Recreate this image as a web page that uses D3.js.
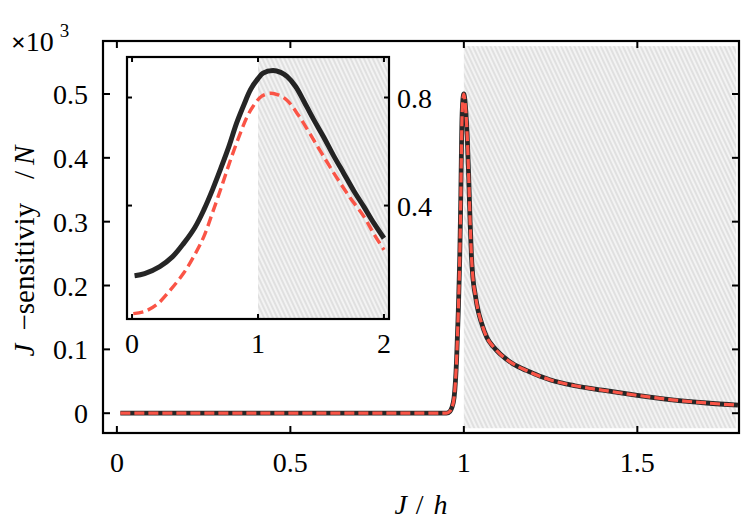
<!DOCTYPE html>
<html>
<head>
<meta charset="utf-8">
<script src="https://cdn.jsdelivr.net/npm/d3@7"></script>
<style>
  body { margin: 0; background: #fff; }
  text { font-family: "Liberation Serif", serif; fill: #000; }
</style>
</head>
<body>
<div id="chart"></div>
<script>
// main panel: sensitivity vs J/h (values in units of 10^3)
const mainJ = [0.01, 0.3, 0.6, 0.9, 0.95, 0.96, 0.965, 0.972, 0.979, 0.984, 0.988, 0.991, 0.994, 0.997, 1.0,
  1.003, 1.006, 1.01, 1.014, 1.018, 1.022, 1.026, 1.033, 1.041, 1.05, 1.066, 1.085, 1.104, 1.14, 1.18,
  1.25, 1.32, 1.4, 1.5, 1.6, 1.7, 1.79]
const mainExact = [0, 0, 0, 0, 0, 0.003, 0.008, 0.025, 0.083, 0.16, 0.239, 0.33, 0.447, 0.49, 0.5,
  0.49, 0.47, 0.43, 0.37, 0.30, 0.245, 0.213, 0.185, 0.161, 0.143, 0.119, 0.104, 0.093, 0.078, 0.067,
  0.052, 0.043, 0.036, 0.028, 0.021, 0.016, 0.0125]
const mainApprox = mainExact.slice()

// inset panel
const insetJBlack = [0.02, 0.1, 0.22, 0.32, 0.41, 0.5, 0.57, 0.64, 0.70, 0.77, 0.83, 0.89, 0.94, 1.0, 1.04,
  1.12, 1.18, 1.23, 1.3, 1.36, 1.44, 1.52, 1.6, 1.68, 1.76, 1.84, 1.92, 2.0]
const insetBlack = [0.14, 0.148, 0.174, 0.21, 0.26, 0.32, 0.384, 0.46, 0.532, 0.62, 0.705, 0.775, 0.829, 0.87, 0.89,
  0.90, 0.893, 0.878, 0.84, 0.79, 0.72, 0.655, 0.585, 0.52, 0.455, 0.396, 0.335, 0.279]
const insetJRed = [0.01, 0.1, 0.2, 0.3, 0.41, 0.5, 0.57, 0.64, 0.72, 0.79, 0.86, 0.91, 0.96, 1.03, 1.10,
  1.16, 1.23, 1.32, 1.41, 1.51, 1.62, 1.73, 1.84, 1.92, 2.0]
const insetRed = [0.0, 0.008, 0.035, 0.085, 0.15, 0.22, 0.285, 0.375, 0.483, 0.58, 0.668, 0.725, 0.767, 0.805, 0.816,
  0.81, 0.79, 0.735, 0.668, 0.59, 0.507, 0.43, 0.36, 0.295, 0.236]

const mainXTicks = [0, 0.5, 1, 1.5]
const mainYTicks = [0, 0.1, 0.2, 0.3, 0.4, 0.5]
const insetXTicks = [0, 1, 2]
const insetYTicks = [0.4, 0.8]

const W = 747, H = 525
const red = "#fa5446"
const fs = "28px"

const svg = d3.select("#chart").append("svg")
    .attr("width", W)
    .attr("height", H)

// hatch pattern for the shaded region
const defs = svg.append("defs")
const pat = defs.append("pattern")
    .attr("id", "hatch")
    .attr("patternUnits", "userSpaceOnUse")
    .attr("width", 4).attr("height", 4)
    .attr("patternTransform", "rotate(-25)")
pat.append("rect").attr("width", 4).attr("height", 4).attr("fill", "#f3f3f3")
pat.append("line").attr("x1", 1).attr("y1", 0).attr("x2", 1).attr("y2", 4)
    .attr("stroke", "#dcdcdc").attr("stroke-width", 1.6)

// main scales
const x = d3.scaleLinear().domain([-0.04, 1.793]).range([103, 739])
const y = d3.scaleLinear().domain([-0.031, 0.583]).range([433, 41])

function drawFrame(g, xs, ys, xt, yt, tickLen) {
    const [x0, x1] = xs.range(), [y0, y1] = ys.range()
    xt.forEach(t => {
        g.append("line").attr("x1", xs(t)).attr("x2", xs(t)).attr("y1", y0).attr("y2", y0 - tickLen)
            .attr("stroke", "#000").attr("stroke-width", 2)
        g.append("line").attr("x1", xs(t)).attr("x2", xs(t)).attr("y1", y1).attr("y2", y1 + tickLen)
            .attr("stroke", "#000").attr("stroke-width", 2)
    })
    yt.forEach(t => {
        g.append("line").attr("x1", x0).attr("x2", x0 + tickLen).attr("y1", ys(t)).attr("y2", ys(t))
            .attr("stroke", "#000").attr("stroke-width", 2)
        g.append("line").attr("x1", x1).attr("x2", x1 - tickLen).attr("y1", ys(t)).attr("y2", ys(t))
            .attr("stroke", "#000").attr("stroke-width", 2)
    })
    g.append("rect").attr("x", x0).attr("y", y1).attr("width", x1 - x0).attr("height", y0 - y1)
        .attr("fill", "none").attr("stroke", "#000").attr("stroke-width", 2.2)
}

// shaded region in main panel
svg.append("rect")
    .attr("x", x(1)).attr("y", y(0.575))
    .attr("width", x(1.785) - x(1)).attr("height", y(-0.0235) - y(0.575))
    .attr("fill", "url(#hatch)")

const mainLine = d3.line()
    .x((d, i) => x(mainJ[i]))
    .y(d => y(d))
    .curve(d3.curveMonotoneX)

svg.append("path").attr("d", mainLine(mainExact))
    .attr("fill", "none").attr("stroke", "#111").attr("stroke-opacity", 0.9).attr("stroke-width", 4.8)
svg.append("path").attr("d", mainLine(mainApprox))
    .attr("fill", "none").attr("stroke", red).attr("stroke-width", 3.2)
    .attr("stroke-dasharray", "10,4")

const mainG = svg.append("g")
drawFrame(mainG, x, y, mainXTicks, mainYTicks, 7)

// main tick labels
svg.selectAll(".xtl").data(mainXTicks).enter().append("text")
    .attr("x", d => x(d)).attr("y", 472)
    .attr("text-anchor", "middle").style("font-size", fs)
    .text(d => d3.format("~g")(d))
svg.selectAll(".ytl").data(mainYTicks).enter().append("text")
    .attr("x", 88).attr("y", d => y(d) + 10)
    .attr("text-anchor", "end").style("font-size", fs)
    .text(d => d3.format("~g")(d))

// multiplier
const mult = svg.append("text").attr("x", 11).attr("y", 51).style("font-size", fs)
mult.append("tspan").style("font-size", "26px").style("font-weight", "bold").text("×")
mult.append("tspan").text("10")
mult.append("tspan").attr("dx", 6).attr("dy", -14).style("font-size", "19px").text("3")

// axis labels
const xl = svg.append("text").attr("x", 421).attr("y", 514)
    .attr("text-anchor", "middle").style("font-size", fs)
xl.append("tspan").style("font-style", "italic").text("J")
xl.append("tspan").attr("dx", 9).text("/")
xl.append("tspan").attr("dx", 10).style("font-style", "italic").text("h")

const yl = svg.append("text")
    .attr("transform", "translate(34,251) rotate(-90)")
    .attr("text-anchor", "middle").style("font-size", "29px")
yl.append("tspan").style("font-style", "italic").text("J")
yl.append("tspan").attr("dx", 13).text("−sensitiviy")
yl.append("tspan").attr("dx", 24).text("/")
yl.append("tspan").attr("dx", 6).style("font-style", "italic").text("N")

// inset
const ix = d3.scaleLinear().domain([-0.04, 2.04]).range([127, 389])
const iy = d3.scaleLinear().domain([-0.02, 0.95]).range([319, 57])

svg.append("rect").attr("x", 127).attr("y", 57).attr("width", 262).attr("height", 262).attr("fill", "#fff")
svg.append("rect")
    .attr("x", ix(1)).attr("y", 58)
    .attr("width", ix(2.03) - ix(1)).attr("height", 260)
    .attr("fill", "url(#hatch)")

const insetBlackLine = d3.line()
    .x((d, i) => ix(insetJBlack[i])).y(d => iy(d)).curve(d3.curveCatmullRom.alpha(0.5))
const insetRedLine = d3.line()
    .x((d, i) => ix(insetJRed[i])).y(d => iy(d)).curve(d3.curveCatmullRom.alpha(0.5))

svg.append("path").attr("d", insetBlackLine(insetBlack))
    .attr("fill", "none").attr("stroke", "#000").attr("stroke-opacity", 0.85).attr("stroke-width", 5)
svg.append("path").attr("d", insetRedLine(insetRed))
    .attr("fill", "none").attr("stroke", red).attr("stroke-width", 3.4)
    .attr("stroke-dasharray", "10,5")

const insetG = svg.append("g")
drawFrame(insetG, ix, iy, insetXTicks, insetYTicks, 5)

svg.selectAll(".ixtl").data(insetXTicks).enter().append("text")
    .attr("x", d => ix(d)).attr("y", 353)
    .attr("text-anchor", "middle").style("font-size", fs)
    .text(d => d)
svg.selectAll(".iytl").data(insetYTicks).enter().append("text")
    .attr("x", 397).attr("y", d => iy(d) + 10)
    .attr("text-anchor", "start").style("font-size", fs)
    .text(d => d)
</script>
</body>
</html>
